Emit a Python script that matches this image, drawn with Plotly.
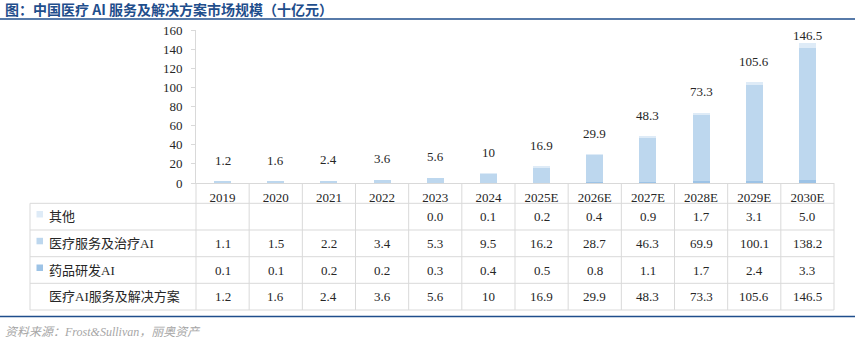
import plotly.graph_objects as go

years = ["2019", "2020", "2021", "2022", "2023", "2024", "2025E", "2026E",
         "2027E", "2028E", "2029E", "2030E"]
other = [None, None, None, None, 0.0, 0.1, 0.2, 0.4, 0.9, 1.7, 3.1, 5.0]
service = [1.1, 1.5, 2.2, 3.4, 5.3, 9.5, 16.2, 28.7, 46.3, 69.9, 100.1, 138.2]
drug = [0.1, 0.1, 0.2, 0.2, 0.3, 0.4, 0.5, 0.8, 1.1, 1.7, 2.4, 3.3]
total = [1.2, 1.6, 2.4, 3.6, 5.6, 10, 16.9, 29.9, 48.3, 73.3, 105.6, 146.5]
y_ticks = [0, 20, 40, 60, 80, 100, 120, 140, 160]

names = ["其他", "医疗服务及治疗AI", "药品研发AI", "医疗AI服务及解决方案"]
colors = ["#deebf7", "#bdd7ee", "#9dc3e6"]

W, H = 865, 355
L, R, T, B = 196, 31, 30, 172
PW, PH = W - L - R, H - T - B
Y0 = H - B  # pixel of y=0
N = len(years)


def pxx(p):
    return (p - L) / PW


def pxy(p):
    return (Y0 - p) / PH


SERIF = "Liberation Serif, 'Noto Sans CJK SC', serif"
TXT = "#262626"
GRID = "#d9d9d9"
BLUE = "#1f4e8c"

fig = go.Figure()
fig.add_trace(go.Bar(x=years, y=drug, name=names[2], marker_color=colors[2],
                     marker_line_width=0))
fig.add_trace(go.Bar(x=years, y=service, name=names[1], marker_color=colors[1],
                     marker_line_width=0))
fig.add_trace(go.Bar(x=years, y=[v if v is not None else 0 for v in other],
                     name=names[0], marker_color=colors[0], marker_line_width=0))

ann = []
shapes = []

# total labels above bars
for k, t in enumerate(total):
    top_px = Y0 - t * PH / 160
    shift = min(21, top_px - 35)
    ann.append(dict(x=k, y=t, xref="x", yref="y", text=f"{t:g}", showarrow=False,
                    xanchor="center", yshift=shift,
                    font=dict(family=SERIF, size=13, color=TXT)))

# title
ann.append(dict(x=pxx(3), y=pxy(9), xref="paper", yref="paper", xanchor="left",
                yanchor="middle", showarrow=False,
                text="<b>图：中国医疗 AI 服务及解决方案市场规模（十亿元）</b>",
                font=dict(family="'Noto Sans CJK SC', sans-serif", size=14, color=BLUE)))
# source
ann.append(dict(x=pxx(3), y=pxy(332), xref="paper", yref="paper", xanchor="left",
                yanchor="middle", showarrow=False,
                text="<i>资料来源：Frost&Sullivan，丽奥资产</i>",
                font=dict(family=SERIF, size=12, color="#a6a6a6")))

# blue rules
for yy in (19, 316.5):
    shapes.append(dict(type="line", xref="paper", yref="paper", x0=pxx(0), x1=pxx(855),
                       y0=pxy(yy), y1=pxy(yy), line=dict(color=BLUE, width=1.5)))

# table grid
row_lines = [203.3, 230, 256.7, 283.3, 310]
for yy in row_lines:
    shapes.append(dict(type="line", xref="paper", yref="paper", x0=pxx(30), x1=1,
                       y0=pxy(yy), y1=pxy(yy), line=dict(color=GRID, width=1)))
shapes.append(dict(type="line", xref="paper", yref="paper", x0=pxx(30), x1=pxx(30),
                   y0=pxy(203.3), y1=pxy(310), line=dict(color=GRID, width=1)))
for k in range(N + 1):
    shapes.append(dict(type="line", xref="paper", yref="paper", x0=k / N, x1=k / N,
                       y0=0, y1=pxy(310), line=dict(color=GRID, width=1)))

# table rows
row_centers = [216.5, 243.3, 270, 296.7]
row_vals = [other, service, drug, total]
for r, (nm, vals, yc) in enumerate(zip(names, row_vals, row_centers)):
    ann.append(dict(x=pxx(47), y=pxy(yc), xref="paper", yref="paper", xanchor="left",
                    yanchor="middle", showarrow=False, text=nm,
                    font=dict(family=SERIF, size=13, color=TXT)))
    if r < 3:
        shapes.append(dict(type="rect", xref="paper", yref="paper", x0=pxx(36.5),
                           x1=pxx(43), y0=pxy(yc - 5.5), y1=pxy(yc + 1),
                           fillcolor=colors[r], line=dict(width=0)))
    for k, v in enumerate(vals):
        if v is None:
            continue
        txt = f"{v:g}" if r == 3 else f"{v:.1f}"
        ann.append(dict(x=(k + 0.5) / N, y=pxy(yc), xref="paper", yref="paper",
                        showarrow=False, xanchor="center", yanchor="middle", text=txt,
                        font=dict(family=SERIF, size=13, color=TXT)))

fig.update_layout(
    width=W, height=H, margin=dict(l=L, r=R, t=T, b=B, pad=0),
    paper_bgcolor="white", plot_bgcolor="white",
    barmode="stack", bargap=0.68, showlegend=False,
    annotations=ann, shapes=shapes,
    font=dict(family=SERIF, size=13, color=TXT),
)
fig.update_xaxes(type="category", categoryorder="array", categoryarray=years,
                 range=[-0.5, N - 0.5], showline=True, linecolor=GRID, linewidth=1,
                 ticks="", showgrid=False, tickfont=dict(family=SERIF, size=13, color=TXT),
                 ticklabelstandoff=2)
fig.update_yaxes(range=[0, 160], tickvals=y_ticks, showline=True, linecolor=GRID,
                 linewidth=1, ticks="outside", ticklen=4, tickcolor=GRID, showgrid=False,
                 zeroline=False, tickfont=dict(family=SERIF, size=13, color=TXT),
                 ticklabelstandoff=6)

fig.write_html("out.html", config={"displayModeBar": False},
               post_script="document.body.style.margin='0';document.body.style.overflow='hidden';")
